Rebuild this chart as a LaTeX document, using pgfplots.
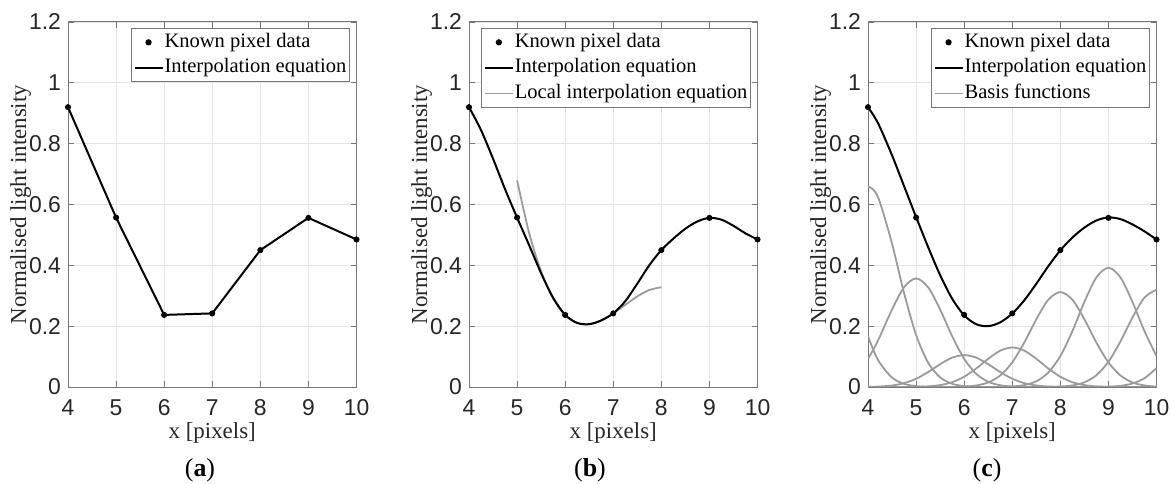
\documentclass[border=0pt]{standalone}
\usepackage{pgfplots}
\pgfplotsset{compat=1.18}
\usepackage{fontspec}
\setmainfont{Liberation Serif}
\newfontfamily\ticksf{Liberation Sans}

\definecolor{axgray}{RGB}{120,120,120}
\definecolor{gridgray}{RGB}{228,228,228}
\definecolor{basisgray}{RGB}{155,155,155}
\definecolor{txt}{RGB}{38,38,38}

\pgfplotsset{
  myaxis/.style={
    scale only axis, width=144.25bp, height=182.5bp,
    xmin=4, xmax=10, ymin=0, ymax=1.2,
    xtick={4,5,6,7,8,9,10}, ytick={0,0.2,0.4,0.6,0.8,1,1.2},
    grid=major, grid style={gridgray, line width=0.4bp},
    axis line style={axgray, line width=0.5bp},
    tick align=inside, major tick length=3bp,
    every tick/.style={axgray, line width=0.4bp},
    /pgf/number format/assume math mode=true,
    tick label style={font=\fontsize{11.5}{13}\selectfont\ticksf, text=txt},
    xticklabel style={anchor=center, yshift=-10.5bp},
    xlabel={x [pixels]}, ylabel={Normalised light intensity},
    every axis x label/.style={at={(axis description cs:0.5,-0.126)}, anchor=center, font=\fontsize{11.5}{13}\selectfont, text=txt},
    every axis y label/.style={at={(axis description cs:-0.164,0.5)}, anchor=center, rotate=90, font=\fontsize{11.5}{13}\selectfont, text=txt},
    legend style={at={(0.977,0.984)}, anchor=north east, draw=axgray, line width=0.5bp,
      font=\fontsize{10.3}{12}\selectfont, text=black, inner xsep=1bp, inner ysep=0.6bp,
      row sep=0pt, nodes={inner xsep=0.5bp, inner ysep=0bp, text height=8.8bp, text depth=4bp}},
    legend cell align=left,
    legend image code/.code={\draw[mark repeat=2, mark phase=2, #1] plot coordinates {(0bp,0bp) (7bp,0bp) (14bp,0bp)};},
  },
  known/.style={only marks, mark=*, mark size=1.3bp, black},
  interp/.style={black, line width=1bp, no marks},
  basis/.style={basisgray, line width=0.9bp, no marks, smooth},
}

\begin{document}
\begin{tikzpicture}
\useasboundingbox (0,0) rectangle (585.5bp,242bp);

% ---------- (a)
\begin{axis}[myaxis, at={(34bp,48.5bp)}, anchor=south west]
\addlegendimage{known}\addlegendentry{Known pixel data}
\addlegendimage{interp}\addlegendentry{Interpolation equation}
\addplot[interp, forget plot] coordinates {(4,0.92)(5,0.557)(6,0.237)(7,0.242)(8,0.45)(9,0.556)(10,0.485)};
\addplot[known, forget plot] coordinates {(4,0.92)(5,0.557)(6,0.237)(7,0.242)(8,0.45)(9,0.556)(10,0.485)};
\end{axis}

% ---------- (b)
\begin{axis}[myaxis, at={(234.5bp,48.5bp)}, anchor=south west]
\addlegendimage{known}\addlegendentry{Known pixel data}
\addlegendimage{interp}\addlegendentry{Interpolation equation}
\addlegendimage{basisgray, line width=0.9bp}\addlegendentry{Local interpolation equation}
\addplot[basis, forget plot] coordinates {(5,0.679)(5.25,0.5066)(5.5,0.3793)(5.75,0.2913)(6,0.237)(6.25,0.2106)(6.5,0.2065)(6.75,0.2189)(7,0.242)(7.25,0.2702)(7.5,0.2978)(7.75,0.3189)(8,0.328)};
\addplot[interp, smooth, forget plot] coordinates {(4,0.92)(4.25,0.8446)(4.5,0.7504)(4.75,0.6502)(5,0.557)(5.25,0.4664)(5.5,0.3740)(5.75,0.2931)(6,0.237)(6.25,0.2106)(6.5,0.2065)(6.75,0.2189)(7,0.242)(7.25,0.2821)(7.5,0.3397)(7.75,0.4004)(8,0.45)(8.25,0.4878)(8.5,0.5204)(8.75,0.5443)(9,0.556)(9.25,0.5501)(9.5,0.5299)(9.75,0.5051)(10,0.485)};
\addplot[known, forget plot] coordinates {(4,0.92)(5,0.557)(6,0.237)(7,0.242)(8,0.45)(9,0.556)(10,0.485)};
\end{axis}

% ---------- (c)
\begin{axis}[myaxis, at={(434bp,48.5bp)}, anchor=south west]
\addlegendimage{known}\addlegendentry{Known pixel data}
\addlegendimage{interp}\addlegendentry{Interpolation equation}
\addlegendimage{basisgray, line width=0.9bp}\addlegendentry{Basis functions}
\addplot[basis, forget plot] coordinates {(4,0.1669)(4.125,0.1166)(4.25,0.0781)(4.5,0.0309)(4.75,0.0103)(5,0.0029)(5.25,0.0007)(5.5,0.0001)(5.75,0)(6,0)(10,0)};
\addplot[basis, forget plot] coordinates {(4,0.66)(4.125,0.6462)(4.25,0.6066)(4.5,0.4710)(4.75,0.3089)(5,0.1711)(5.25,0.0801)(5.5,0.0317)(5.75,0.0106)(6,0.0030)(6.25,0.0007)(6.5,0.0001)(6.75,0)(7,0)(10,0)};
\addplot[basis, forget plot] coordinates {(4,0.0925)(4.125,0.1270)(4.25,0.1671)(4.5,0.2548)(4.75,0.3281)(5,0.357)(5.25,0.3281)(5.5,0.2548)(5.75,0.1671)(6,0.0925)(6.25,0.0433)(6.5,0.0171)(6.75,0.0057)(7,0.0016)(7.25,0.0004)(7.5,0.0001)(7.75,0)(8,0)(10,0)};
\addplot[basis, forget plot] coordinates {(4,0.0005)(4.25,0.0017)(4.5,0.0050)(4.75,0.0127)(5,0.0272)(5.25,0.0491)(5.5,0.0749)(5.75,0.0965)(6,0.105)(6.25,0.0965)(6.5,0.0749)(6.75,0.0491)(7,0.0272)(7.25,0.0127)(7.5,0.0050)(7.75,0.0017)(8,0.0005)(8.25,0.0001)(8.5,0)(8.75,0)(10,0)};
\addplot[basis, forget plot] coordinates {(4,0)(4.25,0)(4.5,0)(4.75,0.0001)(5,0.0006)(5.25,0.0021)(5.5,0.0062)(5.75,0.0158)(6,0.0337)(6.25,0.0608)(6.5,0.0928)(6.75,0.1195)(7,0.13)(7.25,0.1195)(7.5,0.0928)(7.75,0.0608)(8,0.0337)(8.25,0.0158)(8.5,0.0062)(8.75,0.0021)(9,0.0006)(9.25,0.0001)(9.5,0)(9.75,0)(10,0)};
\addplot[basis, forget plot] coordinates {(4,0)(5,0)(5.25,0)(5.5,0.0001)(5.75,0.0003)(6,0.0014)(6.25,0.0050)(6.5,0.0150)(6.75,0.0379)(7,0.0809)(7.25,0.1460)(7.5,0.2226)(7.75,0.2868)(8,0.312)(8.25,0.2868)(8.5,0.2226)(8.75,0.1460)(9,0.0809)(9.25,0.0379)(9.5,0.0150)(9.75,0.0050)(10,0.0014)};
\addplot[basis, forget plot] coordinates {(4,0)(6,0)(6.25,0)(6.5,0.0001)(6.75,0.0004)(7,0.0018)(7.25,0.0063)(7.5,0.0188)(7.75,0.0476)(8,0.1016)(8.25,0.1835)(8.5,0.2797)(8.75,0.3603)(9,0.392)(9.25,0.3603)(9.5,0.2797)(9.75,0.1835)(10,0.1016)};
\addplot[basis, forget plot] coordinates {(4,0)(7,0)(7.25,0)(7.5,0.0001)(7.75,0.0003)(8,0.0015)(8.25,0.0051)(8.5,0.0153)(8.75,0.0388)(9,0.0829)(9.25,0.1498)(9.5,0.2284)(9.75,0.2941)(10,0.32)};
\addplot[basis, forget plot] coordinates {(4,0)(8,0)(8.25,0)(8.5,0.0001)(8.75,0.0003)(9,0.0011)(9.25,0.0038)(9.5,0.0115)(9.75,0.0290)(10,0.0620)};
\addplot[interp, smooth, forget plot] coordinates {(4,0.9199)(4.125,0.8907)(4.25,0.8535)(4.5,0.7617)(4.75,0.6602)(5,0.5588)(5.25,0.4601)(5.5,0.3678)(5.75,0.2903)(6,0.2356)(6.25,0.2064)(6.5,0.2000)(6.75,0.2126)(7,0.2415)(7.25,0.2849)(7.5,0.3394)(7.75,0.3972)(8,0.4492)(8.25,0.4912)(8.5,0.5240)(8.75,0.5475)(9,0.5575)(9.25,0.5519)(9.5,0.5345)(9.75,0.5116)(10,0.4850)};
\addplot[known, forget plot] coordinates {(4,0.92)(5,0.557)(6,0.237)(7,0.242)(8,0.45)(9,0.556)(10,0.485)};
\end{axis}

\node[font=\fontsize{13}{15}\selectfont, text=black] at (100bp,7bp) {(\textbf{a})};
\node[font=\fontsize{13}{15}\selectfont, text=black] at (295bp,7bp) {(\textbf{b})};
\node[font=\fontsize{13}{15}\selectfont, text=black] at (493.5bp,7bp) {(\textbf{c})};
\end{tikzpicture}
\end{document}
